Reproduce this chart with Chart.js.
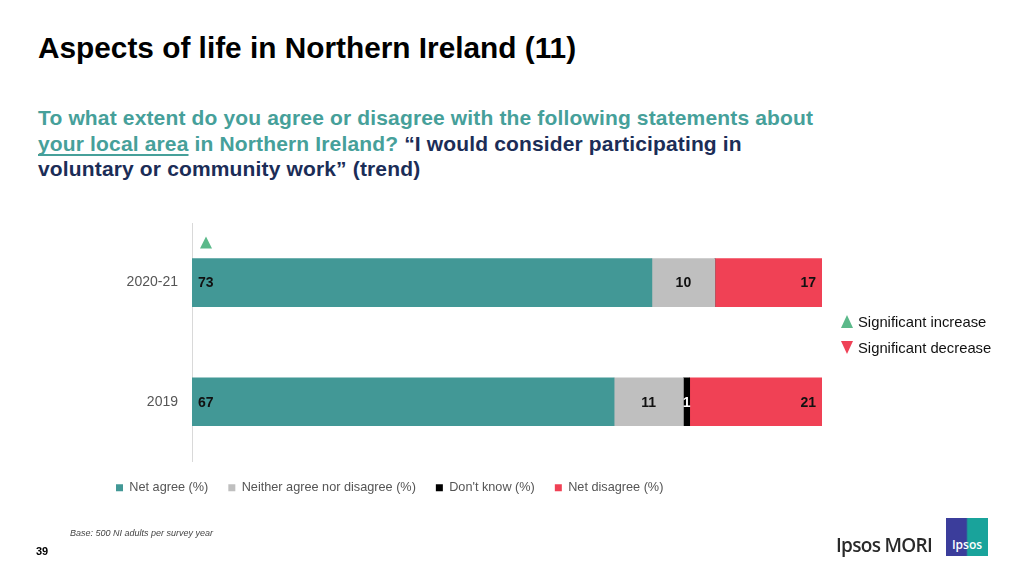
<!DOCTYPE html>
<html lang="en">
  <head>
    <meta charset="UTF-8" />
    <title>Aspects of life in Northern Ireland (11)</title>
    <script src="https://cdn.jsdelivr.net/npm/chart.js"></script>
    <style>
      body {
        margin: 0;
        width: 1024px;
        height: 576px;
        position: relative;
        background: #fff;
        font-family: "Liberation Sans", Arial, sans-serif;
        overflow: hidden;
      }
      #chartCanvas {
        position: absolute;
        left: 0;
        top: 0;
      }
      .title {
        position: absolute;
        left: 38px;
        top: 31px;
        font-family: "Liberation Sans", Arial, sans-serif;
        font-weight: bold;
        font-size: 29.8px;
        line-height: 34px;
        color: #000;
        white-space: nowrap;
      }
      .question {
        position: absolute;
        left: 38px;
        top: 105px;
        font-family: "Liberation Sans", Arial, sans-serif;
        font-weight: bold;
        font-size: 21px;
        letter-spacing: 0.15px;
        line-height: 25.5px;
        color: #46a09a;
        white-space: nowrap;
      }
      .question u {
        text-decoration-thickness: 2px;
        text-underline-offset: 3px;
        text-decoration-skip-ink: none;
      }
      .question .quote {
        color: #1b2d57;
      }
      .sig {
        position: absolute;
        left: 841px;
        font-size: 14.8px;
        color: #111;
        white-space: nowrap;
      }
      .tri {
        display: inline-block;
        width: 0;
        height: 0;
        border-left: 6px solid transparent;
        border-right: 6px solid transparent;
        margin-right: 5px;
        vertical-align: -1px;
      }
      .tri.up {
        border-bottom: 13px solid #5bb98a;
      }
      .tri.down {
        border-top: 13px solid #ef4257;
      }
      .base {
        position: absolute;
        left: 70px;
        top: 528px;
        font-size: 9px;
        font-style: italic;
        color: #444;
      }
      .page {
        position: absolute;
        left: 36px;
        top: 545px;
        font-size: 11px;
        font-weight: bold;
        color: #000;
      }
      .brand {
        position: absolute;
        left: 836px;
        top: 532px;
        font-family: "Open Sans", "Liberation Sans", sans-serif;
        font-weight: 600;
        font-size: 19px;
        color: #2a2a2a;
        letter-spacing: -0.7px;
      }
      .logo {
        position: absolute;
        left: 946px;
        top: 518px;
        width: 42px;
        height: 38px;
        background: linear-gradient(90deg, #3b3d9b 0%, #3b3d9b 48%, #19a39b 52%, #19a39b 100%);
        color: #fff;
        font-family: "Open Sans", "Liberation Sans", sans-serif;
        font-weight: 600;
        font-size: 12px;
        text-align: center;
        line-height: 14px;
        box-sizing: border-box;
        padding-top: 20px;
      }
    </style>
  </head>
  <body>
    <div class="title">Aspects of life in Northern Ireland (11)</div>
    <div class="question">To what extent do you agree or disagree with the following statements about<br /><u>your local area</u> in Northern Ireland? <span class="quote">“I would consider participating in<br />voluntary or community work” (trend)</span></div>

    <canvas id="chartCanvas" width="1024" height="576"></canvas>

    <div class="sig" style="top: 314px"><span class="tri up"></span>Significant increase</div>
    <div class="sig" style="top: 340px"><span class="tri down"></span>Significant decrease</div>

    <div class="base">Base: 500 NI adults per survey year</div>
    <div class="page">39</div>
    <div class="brand">Ipsos MORI</div>
    <div class="logo">Ipsos</div>

    <script>
      // survey years (rows)
      var years = ["2020-21", "2019"];

      // percentages per answer group
      var netAgree = [73, 67];
      var neither = [10, 11];
      var dontKnow = [0, 1];
      var netDisagree = [17, 21];

      // significance vs previous wave (net agree)
      var sigChange = ["up", null];

      var seriesNames = [
        "Net agree (%)",
        "Neither agree nor disagree (%)",
        "Don't know (%)",
        "Net disagree (%)",
      ];
      var seriesColors = ["#429896", "#bfbfbf", "#000000", "#f04155"];

      // draws the numbers inside the bars + the significance arrows
      var barLabels = {
        id: "barLabels",
        afterDatasetsDraw: function (chart) {
          var ctx = chart.ctx;
          ctx.save();
          ctx.font = "bold 14px 'Liberation Sans', Arial, sans-serif";
          ctx.textBaseline = "middle";
          chart.data.datasets.forEach(function (ds, i) {
            var meta = chart.getDatasetMeta(i);
            meta.data.forEach(function (bar, j) {
              var v = ds.data[j];
              if (!v) return;
              var left = Math.min(bar.x, bar.base);
              var right = Math.max(bar.x, bar.base);
              if (i == 0) {
                ctx.textAlign = "left";
                ctx.fillStyle = "#111";
                ctx.fillText(v, left + 6, bar.y + 1);
              } else if (i == 3) {
                ctx.textAlign = "right";
                ctx.fillStyle = "#111";
                ctx.fillText(v, right - 6, bar.y + 1);
              } else {
                ctx.textAlign = "center";
                ctx.fillStyle = i == 2 ? "#fff" : "#111";
                ctx.fillText(v, (left + right) / 2, bar.y + 1);
              }
            });
          });

          var first = chart.getDatasetMeta(0);
          first.data.forEach(function (bar, j) {
            if (!sigChange[j]) return;
            var cx = Math.min(bar.x, bar.base) + 14;
            var top = bar.y - bar.height / 2 - 22;
            ctx.beginPath();
            if (sigChange[j] == "up") {
              ctx.fillStyle = "#5bb98a";
              ctx.moveTo(cx - 6, top + 12);
              ctx.lineTo(cx + 6, top + 12);
              ctx.lineTo(cx, top);
            } else {
              ctx.fillStyle = "#ef4257";
              ctx.moveTo(cx - 6, top);
              ctx.lineTo(cx + 6, top);
              ctx.lineTo(cx, top + 12);
            }
            ctx.closePath();
            ctx.fill();
          });
          ctx.restore();
        },
      };

      var allSeries = [netAgree, neither, dontKnow, netDisagree];
      var datasets = allSeries.map(function (vals, i) {
        return {
          label: seriesNames[i],
          data: vals,
          backgroundColor: seriesColors[i],
          borderWidth: 0,
          barThickness: 48,
        };
      });

      var ctx = document.getElementById("chartCanvas").getContext("2d");
      var chart = new Chart(ctx, {
        type: "bar",
        data: { labels: years, datasets: datasets },
        plugins: [barLabels],
        options: {
          indexAxis: "y",
          responsive: false,
          animation: false,
          layout: {
            padding: { left: 96, right: 202, top: 223, bottom: 72 },
          },
          scales: {
            x: {
              stacked: true,
              min: 0,
              max: 100,
              display: false,
            },
            y: {
              stacked: true,
              grid: { display: false },
              border: { color: "#d9d9d9", width: 1 },
              ticks: {
                color: "#555",
                padding: 6,
                font: { family: "'Liberation Sans', Arial, sans-serif", size: 14 },
              },
              afterFit: function (scale) {
                scale.width = 96;
              },
            },
          },
          plugins: {
            tooltip: { enabled: false },
            legend: {
              position: "bottom",
              align: "start",
              labels: {
                boxWidth: 7,
                boxHeight: 7,
                padding: 20,
                color: "#555",
                font: { family: "'Liberation Sans', Arial, sans-serif", size: 12.7 },
              },
            },
          },
        },
      });
    </script>
  </body>
</html>
